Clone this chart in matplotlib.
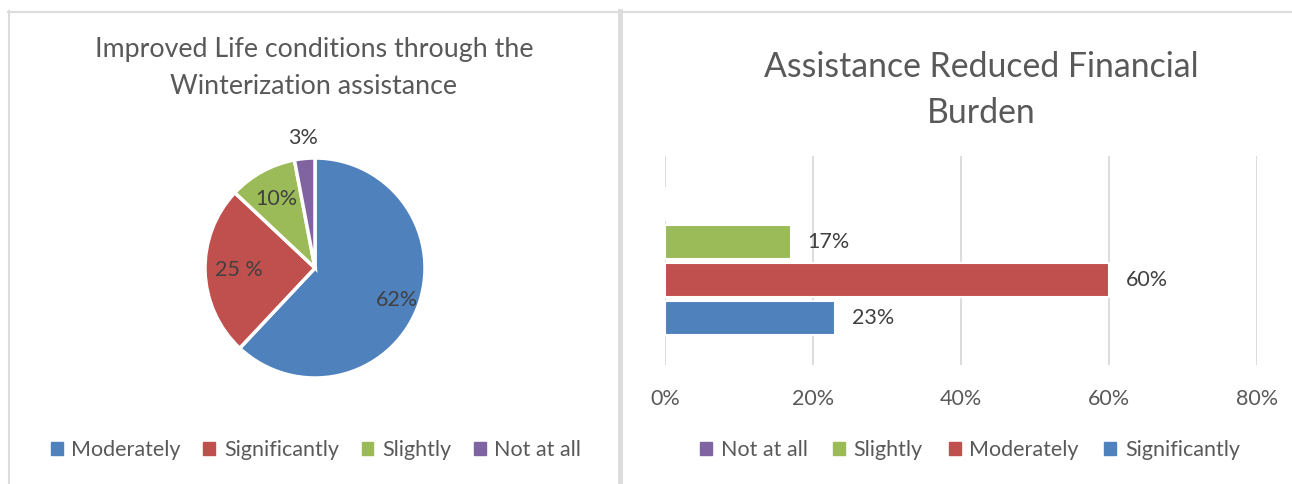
import matplotlib
matplotlib.use("Agg")
import matplotlib.pyplot as plt
from matplotlib.patches import Patch
from matplotlib.lines import Line2D
import numpy as np

# --- data ---
PIE_TITLE = "Improved Life conditions through the\nWinterization assistance"
PIE_CATEGORIES = ["Moderately", "Significantly", "Slightly", "Not at all"]
PIE_VALUES = [62, 25, 10, 3]
PIE_LABELS = ["62%", "25 %", "10%", "3%"]

BAR_TITLE = "Assistance Reduced Financial\nBurden"
BAR_SERIES = ["Not at all", "Slightly", "Moderately", "Significantly"]
BAR_VALUES = [0, 17, 60, 23]          # percent, "Not at all" has no bar
BAR_TICKS = [0, 20, 40, 60, 80]

# --- style ---
COLORS = {
    "Moderately": "#4F81BD",
    "Significantly": "#C0504D",
    "Slightly": "#9BBB59",
    "Not at all": "#8064A2",
}
BAR_COLORS = {
    "Not at all": "#8064A2",
    "Slightly": "#9BBB59",
    "Moderately": "#C0504D",
    "Significantly": "#4F81BD",
}
TEXT = "#595959"
GRID = "#D9D9D9"

plt.rcParams["font.family"] = ["Lato", "DejaVu Sans"]

W, H, DPI = 1292, 484, 100
fig = plt.figure(figsize=(W / DPI, H / DPI), dpi=DPI)


def px_box(left, top, right, bottom):
    # pixel box (origin top-left) -> figure fraction rect
    return [left / W, 1 - bottom / H, (right - left) / W, (bottom - top) / H]


# panel frames
for x0, y0, x1, y1, lw in [(8, 11.5, W, 11.5, 1.5), (8.5, 11, 8.5, H, 1.5),
                           (620, 11, 620, H, 3.5)]:
    fig.add_artist(Line2D([x0 / W, x1 / W], [1 - y0 / H, 1 - y1 / H],
                          color="#DCDCDC", lw=lw, transform=fig.transFigure))

# ---------- pie ----------
ax1 = fig.add_axes(px_box(205, 158, 425, 378))
wedges, _ = ax1.pie(PIE_VALUES, colors=[COLORS[c] for c in PIE_CATEGORIES],
                    startangle=90, counterclock=False,
                    wedgeprops=dict(edgecolor="white", linewidth=2.5))
ax1.set_xlim(-1, 1)
ax1.set_ylim(-1, 1)
ax1.set_aspect("equal")

label_dist = [0.80, 0.69, 0.72, 1.19]
for w, lab, d in zip(wedges, PIE_LABELS, label_dist):
    ang = np.deg2rad((w.theta1 + w.theta2) / 2)
    ax1.text(d * np.cos(ang), d * np.sin(ang), lab, ha="center", va="center",
             fontsize=15.5, color="#404040", clip_on=False)

fig.text(314 / W, 1 - 68 / H, PIE_TITLE, ha="center", va="center",
         fontsize=19.3, color=TEXT, linespacing=1.55)

pie_handles = [Patch(color=COLORS[c], label=c) for c in PIE_CATEGORIES]
fig.legend(handles=pie_handles, loc="center", bbox_to_anchor=(316 / W, 1 - 450 / H),
           ncol=4, frameon=False, fontsize=15.5, labelcolor=TEXT,
           handlelength=0.55, handleheight=0.55, handletextpad=0.4,
           columnspacing=1.05)

# ---------- horizontal bars ----------
ax2 = fig.add_axes(px_box(665, 156, 1257, 365))
slot = 38 / 209
bar_h = 34 / 209
for i, (name, val) in enumerate(zip(BAR_SERIES, BAR_VALUES)):
    y = (1.5 - i) * slot
    ax2.barh(y, val, height=bar_h, color=BAR_COLORS[name],
             edgecolor="white", linewidth=1.5, zorder=3)
    if val:
        ax2.annotate(f"{val}%", (val, y), xytext=(12, 0),
                     textcoords="offset points", va="center", ha="left",
                     fontsize=15.5, color="#404040")

ax2.set_xlim(0, 80)
ax2.set_ylim(-0.5, 0.5)
ax2.set_xticks(BAR_TICKS)
ax2.set_xticklabels([f"{t}%" for t in BAR_TICKS])
ax2.set_yticks([])
ax2.grid(axis="x", color=GRID, linewidth=1.3, zorder=0)
ax2.tick_params(axis="x", length=0, pad=17, labelsize=15.5, labelcolor=TEXT)
for s in ax2.spines.values():
    s.set_visible(False)

fig.text(981 / W, 1 - 90 / H, BAR_TITLE, ha="center", va="center",
         fontsize=24.3, color=TEXT, linespacing=1.55)

bar_handles = [Patch(color=BAR_COLORS[n], label=n) for n in BAR_SERIES]
fig.legend(handles=bar_handles, loc="center", bbox_to_anchor=(970 / W, 1 - 450 / H),
           ncol=4, frameon=False, fontsize=15.5, labelcolor=TEXT,
           handlelength=0.55, handleheight=0.55, handletextpad=0.4,
           columnspacing=1.2)

fig.savefig("out.png", dpi=DPI, facecolor="white")
